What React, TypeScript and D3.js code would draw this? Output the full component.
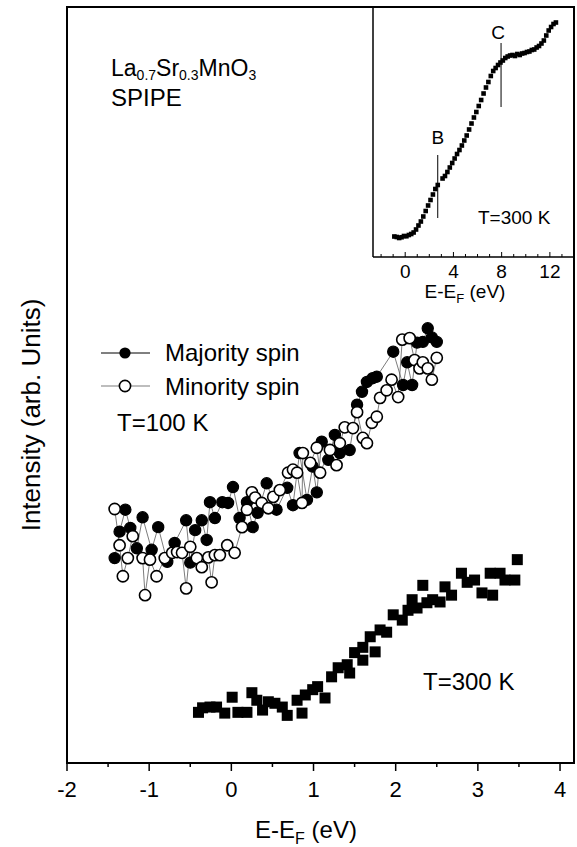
import * as d3 from "d3"

// main panel, T=100 K spin-resolved (E-EF in eV, intensity in arb. units)
const majE = [-1.42, -1.36, -1.29, -1.23, -1.15, -1.08, -0.97, -0.89, -0.78, -0.69, -0.55, -0.5, -0.44, -0.36, -0.3, -0.26, -0.2, -0.11, -0.04, 0.02, 0.1, 0.19, 0.26, 0.32, 0.43, 0.55, 0.68, 0.75, 0.83, 0.92, 0.99, 1.04, 1.1, 1.18, 1.26, 1.32, 1.44, 1.53, 1.59, 1.65, 1.72, 1.77, 1.97, 2.09, 2.14, 2.2, 2.26, 2.33, 2.39, 2.44, 2.5]
const majI = [27.1, 30.6, 33.5, 31.1, 28.4, 32.5, 28.2, 31.2, 26.6, 29.1, 32.1, 26.5, 30.8, 32.1, 29.5, 34.5, 32.4, 34.5, 34.4, 36.5, 32.4, 34.5, 31.2, 33.1, 37.0, 33.5, 36.4, 34.1, 41.0, 34.8, 39.2, 35.8, 42.5, 40.1, 43.4, 41.0, 41.4, 47.4, 49.1, 50.4, 50.9, 51.1, 54.4, 50.0, 53.0, 50.0, 55.6, 55.7, 57.5, 56.3, 55.7]

const minE = [-1.42, -1.36, -1.32, -1.26, -1.2, -1.08, -1.05, -0.99, -0.91, -0.81, -0.72, -0.66, -0.6, -0.55, -0.5, -0.42, -0.36, -0.28, -0.24, -0.2, -0.14, -0.05, 0.04, 0.13, 0.19, 0.25, 0.29, 0.37, 0.45, 0.51, 0.59, 0.69, 0.75, 0.8, 0.86, 0.87, 0.96, 1.04, 1.08, 1.2, 1.28, 1.32, 1.38, 1.48, 1.53, 1.6, 1.65, 1.71, 1.77, 1.81, 1.89, 1.95, 2.03, 2.08, 2.17, 2.23, 2.29, 2.33, 2.39, 2.44, 2.5]
const minI = [33.6, 28.8, 24.7, 27.1, 30.0, 27.1, 22.2, 26.9, 24.7, 27.1, 27.8, 27.9, 27.8, 23.1, 28.6, 27.1, 25.9, 27.2, 23.9, 27.5, 27.5, 28.8, 27.8, 31.2, 33.5, 35.8, 35.1, 34.4, 33.7, 35.2, 36.1, 38.4, 38.8, 38.4, 34.4, 41.0, 39.7, 41.7, 38.4, 41.4, 39.4, 42.3, 44.4, 44.3, 46.4, 43.0, 42.3, 45.0, 45.8, 48.3, 49.3, 50.7, 48.4, 56.0, 56.2, 53.3, 52.2, 53.0, 52.2, 50.7, 53.6]

// main panel, T=300 K spin-integrated
const t300E = [-0.4, -0.35, -0.26, -0.18, -0.08, 0.01, 0.08, 0.19, 0.25, 0.31, 0.38, 0.45, 0.53, 0.62, 0.68, 0.8, 0.86, 0.9, 0.99, 1.05, 1.14, 1.22, 1.3, 1.41, 1.44, 1.5, 1.6, 1.6, 1.69, 1.75, 1.81, 1.89, 1.97, 2.08, 2.15, 2.2, 2.26, 2.33, 2.38, 2.45, 2.54, 2.6, 2.68, 2.8, 2.87, 2.96, 3.05, 3.15, 3.18, 3.27, 3.33, 3.45, 3.48]
const t300I = [6.7, 7.3, 7.4, 7.4, 6.6, 8.7, 6.7, 6.7, 9.3, 8.3, 7.0, 8.1, 7.9, 7.4, 6.3, 8.3, 6.6, 9.0, 9.7, 10.1, 8.6, 11.4, 12.6, 13.0, 11.9, 14.6, 13.6, 15.3, 16.7, 14.7, 17.6, 17.3, 19.6, 18.9, 20.2, 21.6, 20.5, 23.5, 21.2, 21.6, 21.3, 23.3, 22.2, 25.1, 23.9, 24.2, 22.5, 25.1, 22.2, 25.1, 24.2, 24.2, 26.9]

// inset, wide range T=300 K
const insetE = [-0.9, -0.7, -0.5, -0.3, -0.1, 0.1, 0.3, 0.5, 0.7, 0.9, 1.1, 1.3, 1.5, 1.7, 1.9, 2.1, 2.3, 2.5, 2.7, 3.1, 3.3, 3.5, 3.7, 3.9, 4.1, 4.3, 4.5, 4.7, 4.9, 5.1, 5.3, 5.5, 5.7, 5.9, 6.1, 6.3, 6.5, 6.7, 6.9, 7.1, 7.3, 7.5, 7.7, 7.9, 8.1, 8.3, 8.5, 8.7, 8.9, 9.1, 9.3, 9.5, 9.7, 9.9, 10.1, 10.3, 10.5, 10.7, 10.9, 11.1, 11.3, 11.5, 11.7, 11.9, 12.1, 12.3, 12.5]
const insetI = [8.2, 8.0, 7.6, 7.9, 8.4, 8.3, 8.8, 9.2, 9.8, 11.0, 12.6, 14.2, 16.2, 18.4, 20.6, 22.8, 25.0, 27.2, 28.8, 31.4, 32.4, 34.0, 35.8, 37.6, 39.4, 41.2, 42.8, 44.6, 46.6, 48.6, 51.0, 53.4, 55.8, 58.0, 60.4, 62.8, 65.4, 67.8, 70.0, 72.4, 74.4, 75.6, 76.8, 77.8, 78.6, 79.6, 80.2, 80.6, 80.8, 80.4, 81.2, 80.8, 81.4, 81.6, 82.0, 82.2, 82.8, 83.0, 83.8, 84.4, 85.4, 86.6, 88.6, 90.6, 92.0, 93.2, 93.8]

const xTicks = [-2, -1, 0, 1, 2, 3, 4]
const insetTicks = [0, 4, 8, 12]
const markB = [2.7, 15.6, 40.8]
const markC = [7.95, 60, 85.6]

const W = 577, H = 847
const FONT = "'Liberation Sans', Arial, sans-serif"

function App() {
  const x = d3.scaleLinear().domain([-2, 4.17]).range([67, 574])
  const y = d3.scaleLinear().domain([0, 100]).range([763, 7])
  const xi = d3.scaleLinear().domain([-2.67, 14]).range([373, 574])
  const yi = d3.scaleLinear().domain([0, 100]).range([257, 7])

  const maj = majE.map((e, i) => [e, majI[i]])
  const min = minE.map((e, i) => [e, minI[i]])
  const line = d3.line().x(d => x(d[0])).y(d => y(d[1]))

  const minor = d3.range(-2, 4.01, 0.5)
  const insetMinor = d3.range(-2, 14, 1)

  return (
    <svg width={W} height={H} style={{ position: "absolute", left: 0, top: 0, background: "#fff" }} fontFamily={FONT}>
      {/* frame */}
      <rect x={67} y={7} width={507} height={756} fill="none" stroke="#000" strokeWidth={2} />
      {minor.map(t => (
        <line key={t} x1={x(t)} x2={x(t)} y1={763} y2={Number.isInteger(t) ? 771 : 767} stroke="#000" strokeWidth={1.5} />
      ))}
      {xTicks.map(t => (
        <text key={t} x={x(t)} y={797} fontSize={22} textAnchor="middle">{t}</text>
      ))}
      <text x={306} y={838} fontSize={24} textAnchor="middle">
        E-E<tspan fontSize={16} dy={6}>F</tspan><tspan dy={-6}> (eV)</tspan>
      </text>
      <text transform="translate(40,415) rotate(-90)" fontSize={26} textAnchor="middle">Intensity (arb. Units)</text>

      <text x={111} y={76} fontSize={23}>
        La<tspan fontSize={14} dy={4}>0.7</tspan><tspan dy={-4}>Sr</tspan><tspan fontSize={14} dy={4}>0.3</tspan><tspan dy={-4}>MnO</tspan><tspan fontSize={14} dy={4}>3</tspan>
      </text>
      <text x={111} y={106} fontSize={24}>SPIPE</text>

      {/* spin resolved */}
      <path d={line(maj) || ""} fill="none" stroke="#444" strokeWidth={0.7} />
      <path d={line(min) || ""} fill="none" stroke="#444" strokeWidth={0.7} />
      {maj.map((d, i) => (
        <circle key={"a" + i} cx={x(d[0])} cy={y(d[1])} r={5.6} fill="#000" stroke="#000" strokeWidth={1.2} />
      ))}
      {min.map((d, i) => (
        <circle key={"b" + i} cx={x(d[0])} cy={y(d[1])} r={5.6} fill="#fff" stroke="#000" strokeWidth={1.6} />
      ))}

      {/* legend */}
      <line x1={101} x2={150} y1={353} y2={353} stroke="#000" strokeWidth={1} />
      <circle cx={125} cy={353} r={5.6} fill="#000" />
      <text x={165} y={361} fontSize={24}>Majority spin</text>
      <line x1={101} x2={150} y1={386} y2={386} stroke="#444" strokeWidth={0.7} />
      <circle cx={125} cy={386} r={5.6} fill="#fff" stroke="#000" strokeWidth={1.6} />
      <text x={165} y={395} fontSize={24}>Minority spin</text>
      <text x={117} y={431} fontSize={24}>T=100 K</text>

      {/* T=300 K */}
      {t300E.map((e, i) => (
        <rect key={"s" + i} x={x(e) - 5.5} y={y(t300I[i]) - 5.5} width={11} height={11} fill="#000" />
      ))}
      <text x={423} y={690} fontSize={24}>T=300 K</text>

      {/* inset */}
      <rect x={373} y={7} width={201} height={250} fill="#fff" stroke="none" />
      <line x1={373} x2={373} y1={7} y2={257} stroke="#000" strokeWidth={1.5} />
      <line x1={373} x2={574} y1={257} y2={257} stroke="#000" strokeWidth={1.5} />
      <line x1={373} x2={574} y1={7} y2={7} stroke="#000" strokeWidth={2} />
      <line x1={574} x2={574} y1={7} y2={257} stroke="#000" strokeWidth={2} />
      {insetMinor.map(t => (
        <line key={t} x1={xi(t)} x2={xi(t)} y1={257} y2={t % 4 === 0 ? 252 : 254} stroke="#000" strokeWidth={1} />
      ))}
      {insetTicks.map(t => (
        <text key={t} x={xi(t)} y={278} fontSize={19} textAnchor="middle">{t}</text>
      ))}
      <text x={465} y={298} fontSize={19} textAnchor="middle">
        E-E<tspan fontSize={13} dy={5}>F</tspan><tspan dy={-5}> (eV)</tspan>
      </text>
      {insetE.map((e, i) => (
        <rect key={"i" + i} x={xi(e) - 2.3} y={yi(insetI[i]) - 2.3} width={4.6} height={4.6} fill="#000" />
      ))}
      <line x1={xi(markB[0])} x2={xi(markB[0])} y1={yi(markB[1])} y2={yi(markB[2])} stroke="#000" strokeWidth={1} />
      <line x1={xi(markC[0])} x2={xi(markC[0])} y1={yi(markC[1])} y2={yi(markC[2])} stroke="#000" strokeWidth={1} />
      <text x={xi(markB[0])} y={144} fontSize={19} textAnchor="middle">B</text>
      <text x={xi(markC[0]) - 3} y={39} fontSize={19} textAnchor="middle">C</text>
      <text x={478} y={224} fontSize={19}>T=300 K</text>
    </svg>
  )
}

export default App
